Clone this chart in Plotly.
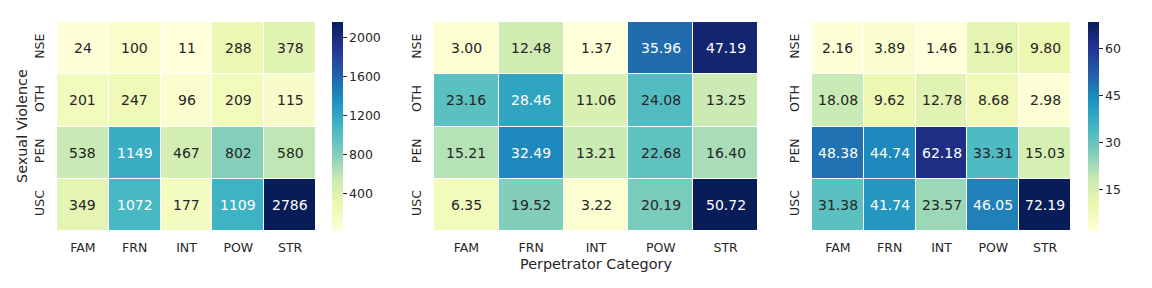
import numpy as np
import plotly.graph_objects as go

perp = ["FAM", "FRN", "INT", "POW", "STR"]
viol = ["NSE", "OTH", "PEN", "USC"]

counts = [
    [24, 100, 11, 288, 378],
    [201, 247, 96, 209, 115],
    [538, 1149, 467, 802, 580],
    [349, 1072, 177, 1109, 2786],
]
pct_by_violence = [
    [3.00, 12.48, 1.37, 35.96, 47.19],
    [23.16, 28.46, 11.06, 24.08, 13.25],
    [15.21, 32.49, 13.21, 22.68, 16.40],
    [6.35, 19.52, 3.22, 20.19, 50.72],
]
pct_by_perp = [
    [2.16, 3.89, 1.46, 11.96, 9.80],
    [18.08, 9.62, 12.78, 8.68, 2.98],
    [48.38, 44.74, 62.18, 33.31, 15.03],
    [31.38, 41.74, 23.57, 46.05, 72.19],
]

ylgnbu = ['#ffffd9', '#edf8b1', '#c7e9b4', '#7fcdbb', '#41b6c4',
          '#1d91c0', '#225ea8', '#253494', '#081d58']
cscale = [[i / 8, c] for i, c in enumerate(ylgnbu)]
rgbs = np.array([[int(c[1:3], 16), int(c[3:5], 16), int(c[5:7], 16)] for c in ylgnbu]) / 255.0


def color_at(t):
    t = min(max(t, 0.0), 1.0)
    pos = t * 8
    i = min(int(np.floor(pos)), 7)
    f = pos - i
    return rgbs[i] * (1 - f) + rgbs[i + 1] * f


def lum(rgb):
    rgb = np.where(rgb <= 0.03928, rgb / 12.92, ((rgb + 0.055) / 1.055) ** 2.4)
    return float(rgb.dot([0.2126, 0.7152, 0.0722]))


TXT = "#262626"
FONT = "DejaVu Sans"
TICK = 12.5

fig = go.Figure()

# page body has an 8px margin: figure occupies window pixels 8..1152
OFF = 8
W, H = 1152 - OFF, 288 - OFF
top, bot = 22 - OFF, 231 - OFF
ydom = [1 - bot / H, 1 - top / H]
xdoms = [(57 - OFF, 316 - OFF), (434 - OFF, 758 - OFF), (812 - OFF, 1071 - OFF)]
cbars = [332 - OFF, None, 1088 - OFF]
datas = [(counts, "{:d}"), (pct_by_violence, "{:.2f}"), (pct_by_perp, "{:.2f}")]
annotations = []

for k, ((data, fmt), (x0, x1), cbx) in enumerate(zip(datas, xdoms, cbars)):
    z = np.array(data, dtype=float)
    zmin = float(np.percentile(z, 2))
    zmax = float(np.percentile(z, 98))
    ax = "" if k == 0 else str(k + 1)
    tr = dict(
        z=z, x=perp, y=viol, colorscale=cscale, zmin=zmin, zmax=zmax,
        xgap=1, ygap=1, xaxis="x" + ax, yaxis="y" + ax,
        hoverinfo="skip",
    )
    if cbx is not None:
        tr["showscale"] = True
        tr["colorbar"] = dict(
            x=cbx / W, xanchor="left", y=ydom[1], yanchor="top",
            len=ydom[1] - ydom[0], lenmode="fraction", thickness=11,
            xpad=0, ypad=0, outlinewidth=0,
            ticks="outside", ticklen=4, tickwidth=1, tickcolor=TXT,
            tickfont=dict(family=FONT, size=TICK, color=TXT),
            dtick=400 if k == 0 else 15, tick0=0,
        )
    else:
        tr["showscale"] = False
    fig.add_trace(go.Heatmap(**tr))

    for i, v in enumerate(viol):
        for j, p in enumerate(perp):
            val = data[i][j]
            c = color_at((val - zmin) / (zmax - zmin))
            col = TXT if lum(c) > 0.408 else "white"
            txt = fmt.format(int(val)) if fmt == "{:d}" else fmt.format(val)
            annotations.append(dict(
                x=p, y=v, xref="x" + ax, yref="y" + ax, text=txt,
                showarrow=False, font=dict(family=FONT, size=14, color=col),
            ))

    fig.layout["xaxis" + ax] = dict(
        domain=[x0 / W, x1 / W], anchor="y" + ax, showgrid=False, zeroline=False,
        ticks="outside", ticklen=5, tickcolor="rgba(0,0,0,0)", automargin=False,
        tickfont=dict(family=FONT, size=TICK, color=TXT), showline=False,
    )
    fig.layout["yaxis" + ax] = dict(
        domain=ydom, anchor="x" + ax, autorange="reversed", showgrid=False,
        zeroline=False, ticks="outside", ticklen=7, tickcolor="rgba(0,0,0,0)",
        tickangle=-90, tickfont=dict(family=FONT, size=TICK, color=TXT),
        showline=False, automargin=False,
    )

# axis titles
annotations.append(dict(
    text="Sexual Violence", xref="paper", yref="paper", x=(22 - OFF) / W, y=1 - (126 - OFF) / H,
    xanchor="center", yanchor="middle", textangle=-90, showarrow=False,
    font=dict(family=FONT, size=14.4, color=TXT),
))
annotations.append(dict(
    text="Perpetrator Category", xref="paper", yref="paper", x=(596 - OFF) / W, y=1 - (264 - OFF) / H,
    xanchor="center", yanchor="middle", showarrow=False,
    font=dict(family=FONT, size=14.4, color=TXT),
))

fig.update_layout(
    width=W, height=H, margin=dict(l=0, r=0, t=0, b=0, autoexpand=False),
    paper_bgcolor="white", plot_bgcolor="white",
    annotations=annotations, font=dict(family=FONT, color=TXT),
)

fig.write_html("out.html")
